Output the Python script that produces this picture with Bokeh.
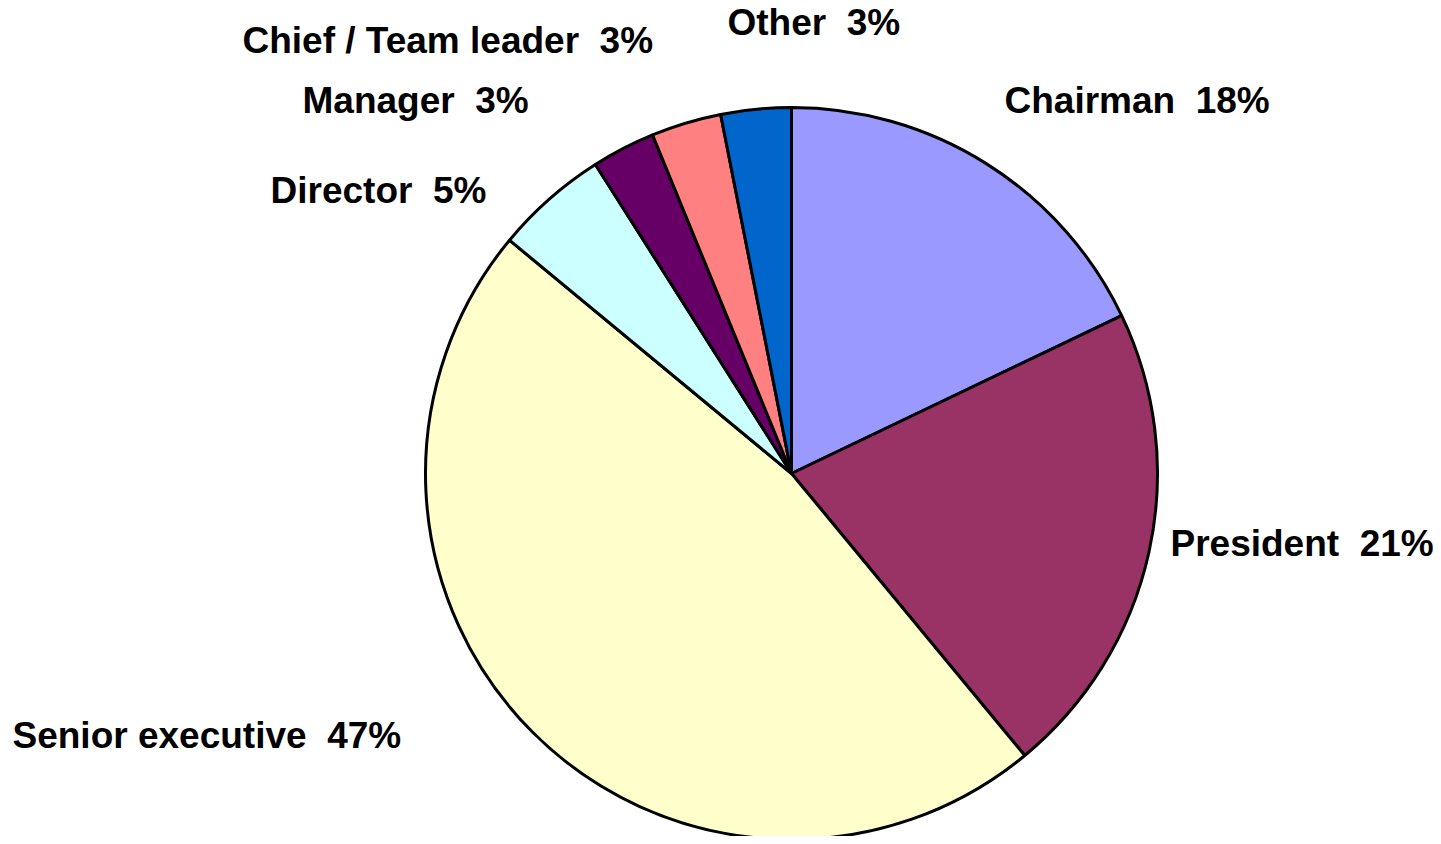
import math
from bokeh.plotting import figure
from bokeh.models import Range1d, ColumnDataSource
from bokeh.core.properties import value
from bokeh.embed import file_html
from bokeh.resources import INLINE

# ---- data ----
categories = ["Chairman", "President", "Senior executive", "Director",
              "Manager", "Chief / Team leader", "Other"]
shares = [17.9, 21.1, 47.0, 5.0, 2.8, 3.1, 3.1]
colors = ["#9999FF", "#993366", "#FFFFCC", "#CCFFFF", "#660066", "#FF8080", "#0066CC"]

# ---- layout (page pixel coordinates) ----
W, H = 1433, 836
cx, cy_page, R = 791, 473, 366
label_left = [1004, 1170, 12, 270, 302, 242, 727]
label_mid_page = [100, 543, 735, 190, 100, 40, 22]

def to_y(page_y):
    return 844 - page_y

total = sum(shares)
starts, ends = [], []
cum = 0.0
for s in shares:
    a0 = math.pi / 2 - 2 * math.pi * cum / total
    cum += s
    a1 = math.pi / 2 - 2 * math.pi * cum / total
    starts.append(a1)
    ends.append(a0)

src = ColumnDataSource(dict(
    x=[cx] * len(shares), y=[to_y(cy_page)] * len(shares),
    start=starts, end=ends, color=colors,
))

p = figure(width=W, height=H, output_backend="svg", toolbar_location=None,
           x_range=Range1d(0, W), y_range=Range1d(to_y(H), to_y(0)),
           min_border=0, background_fill_color="white", border_fill_color="white")
p.outline_line_color = None
p.axis.visible = False
p.grid.visible = False

p.wedge(x="x", y="y", radius=R, start_angle="start", end_angle="end",
        direction="anticlock", fill_color="color", line_color="black",
        line_width=3, source=src)

labels = [f"{c}\u00a0\u00a0{round(v)}%" for c, v in zip(categories, shares)]
lsrc = ColumnDataSource(dict(x=label_left, y=[to_y(v) for v in label_mid_page], t=labels))
p.text(x="x", y="y", text="t", source=lsrc, text_font=value("Liberation Sans"),
       text_font_style="bold", text_font_size="37px", text_align="left",
       text_baseline="middle", text_color="black")

open("out.html", "w").write(file_html(p, INLINE))
